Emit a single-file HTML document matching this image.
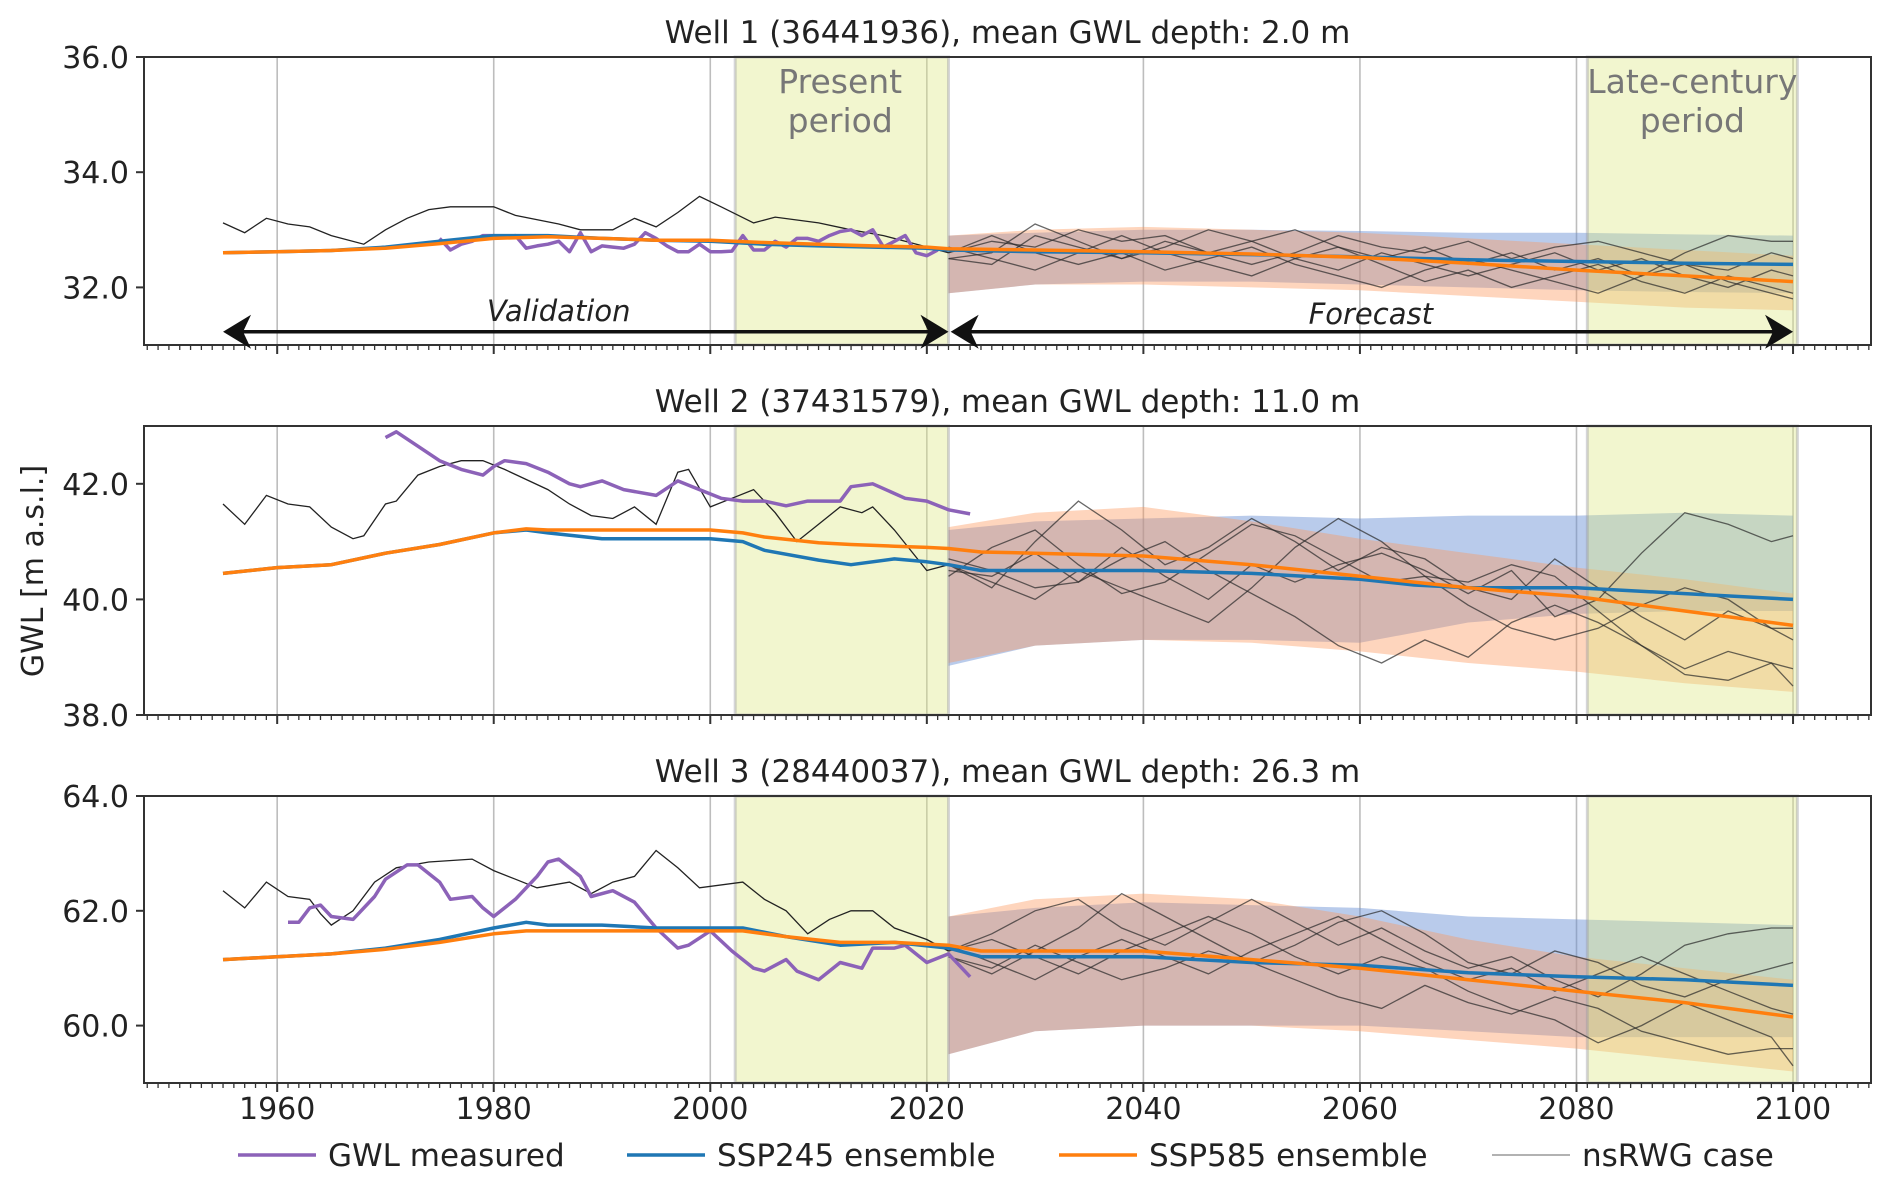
<!DOCTYPE html>
<html><head><meta charset="utf-8">
<style>
html,body{margin:0;padding:0;background:#fff;}
svg{display:block;font-family:"DejaVu Sans","Liberation Sans",sans-serif;}
</style></head>
<body>
<svg id="chart" width="1892" height="1185" viewBox="0 0 1892 1185" xmlns="http://www.w3.org/2000/svg"></svg>
<script>
// ---------- data ----------
const xTicks=[1960,1980,2000,2020,2040,2060,2080,2100];
const titles=["Well 1 (36441936), mean GWL depth: 2.0 m","Well 2 (37431579), mean GWL depth: 11.0 m","Well 3 (28440037), mean GWL depth: 26.3 m"];
const yTicks1=[32,34,36], yTicks2=[38,40,42], yTicks3=[60,62,64];
const fYears=[2022,2026,2030,2034,2038,2042,2046,2050,2054,2058,2062,2066,2070,2074,2078,2082,2086,2090,2094,2098,2100];
const bandYears=[2022,2030,2040,2050,2060,2070,2080,2090,2100];

// Well 1
const w1HistEnsYears=[1955,1960,1965,1970,1975,1980,1985,1990,1995,2000,2005,2010,2015,2020,2022];
const w1Ssp245Hist=[32.6,32.62,32.64,32.7,32.8,32.9,32.9,32.85,32.82,32.8,32.75,32.72,32.7,32.68,32.65];
const w1Ssp585Hist=[32.6,32.62,32.64,32.68,32.76,32.85,32.88,32.85,32.82,32.82,32.78,32.75,32.72,32.7,32.67];
const w1FcYears=[2022,2030,2040,2050,2060,2070,2080,2090,2100];
const w1Ssp245Fc=[32.65,32.62,32.6,32.57,32.53,32.48,32.45,32.42,32.4];
const w1Ssp585Fc=[32.67,32.65,32.62,32.58,32.52,32.42,32.3,32.2,32.1];
const w1B245Lo=[31.9,32.05,32.1,32.1,32.05,32.0,31.95,31.92,31.9];
const w1B245Hi=[32.9,32.95,33.0,33.0,32.98,32.95,32.95,32.92,32.9];
const w1B585Lo=[31.9,32.05,32.05,32.0,31.95,31.85,31.75,31.65,31.6];
const w1B585Hi=[32.9,33.0,33.05,33.0,32.95,32.85,32.75,32.65,32.55];
const w1MeasYears=[1975,1976,1977,1978,1979,1980,1981,1982,1983,1984,1985,1986,1987,1988,1989,1990,1991,1992,1993,1994,1995,1996,1997,1998,1999,2000,2001,2002,2003,2004,2005,2006,2007,2008,2009,2010,2011,2012,2013,2014,2015,2016,2017,2018,2019,2020,2021];
const w1Meas=[32.85,32.65,32.75,32.8,32.9,32.9,32.88,32.9,32.68,32.72,32.75,32.8,32.62,32.95,32.62,32.72,32.7,32.68,32.75,32.95,32.85,32.72,32.62,32.62,32.75,32.62,32.62,32.63,32.9,32.65,32.65,32.8,32.7,32.85,32.85,32.8,32.9,32.97,33.0,32.9,33.0,32.7,32.8,32.9,32.6,32.55,32.65];
const w1RwgYears=[1955,1957,1959,1961,1963,1965,1968,1970,1972,1974,1976,1980,1982,1986,1988,1991,1993,1995,1997,1999,2001,2004,2006,2010,2013,2016,2018,2022];
const w1Rwg=[33.12,32.95,33.2,33.1,33.05,32.9,32.75,33.0,33.2,33.35,33.4,33.4,33.25,33.1,33.0,33.0,33.2,33.05,33.3,33.58,33.4,33.12,33.22,33.12,33.0,32.9,32.8,32.6];
const w1F1=[32.6,32.8,32.7,33.0,32.8,32.9,32.6,32.8,33.0,32.7,32.5,32.7,32.4,32.6,32.3,32.5,32.2,32.6,32.9,32.8,32.8];
const w1F2=[32.5,32.4,32.9,32.7,32.5,32.7,33.0,32.8,32.5,32.3,32.6,32.4,32.2,32.4,32.6,32.3,32.5,32.2,32.0,32.3,32.2];
const w1F3=[32.7,32.5,32.3,32.6,32.9,32.6,32.4,32.2,32.5,32.7,32.4,32.1,32.3,32.0,32.2,32.4,32.1,31.9,32.2,32.0,31.9];
const w1F4=[32.6,32.9,32.6,32.4,32.6,32.3,32.5,32.7,32.4,32.2,32.0,32.3,32.5,32.3,32.1,31.9,32.2,32.4,32.3,32.6,32.5];
const w1F5=[32.5,32.6,33.1,32.8,32.5,32.8,32.6,32.4,32.6,32.9,32.7,32.6,32.8,32.5,32.7,32.8,32.6,32.4,32.1,31.9,31.8];

// Well 2
const w2HistEnsYears=[1955,1960,1965,1970,1975,1980,1983,1985,1990,1995,2000,2003,2005,2010,2013,2017,2020,2022];
const w2Ssp245Hist=[40.45,40.55,40.6,40.8,40.95,41.15,41.2,41.15,41.05,41.05,41.05,41.0,40.85,40.68,40.6,40.7,40.65,40.6];
const w2Ssp585Hist=[40.45,40.55,40.6,40.8,40.95,41.15,41.22,41.2,41.2,41.2,41.2,41.15,41.08,40.98,40.95,40.92,40.9,40.88];
const w2FcYears=[2022,2025,2030,2040,2050,2060,2065,2070,2080,2090,2100];
const w2Ssp245Fc=[40.6,40.5,40.5,40.5,40.45,40.35,40.25,40.2,40.2,40.1,40.0];
const w2Ssp585Fc=[40.88,40.82,40.8,40.75,40.6,40.4,40.3,40.2,40.05,39.8,39.55];
const w2B245Lo=[38.85,39.2,39.3,39.3,39.25,39.6,39.75,39.8,39.8];
const w2B245Hi=[41.2,41.35,41.4,41.45,41.4,41.45,41.45,41.5,41.45];
const w2B585Lo=[38.9,39.2,39.3,39.25,39.1,38.9,38.75,38.55,38.4];
const w2B585Hi=[41.25,41.5,41.6,41.35,41.05,40.8,40.55,40.35,40.1];
const w2MeasYears=[1970,1971,1973,1975,1977,1979,1980,1981,1983,1985,1987,1988,1990,1992,1995,1997,1999,2001,2003,2005,2007,2009,2012,2013,2015,2018,2020,2022,2024];
const w2Meas=[42.8,42.9,42.65,42.4,42.25,42.15,42.3,42.4,42.35,42.2,42.0,41.95,42.05,41.9,41.8,42.05,41.9,41.75,41.7,41.7,41.62,41.7,41.7,41.95,42.0,41.75,41.7,41.55,41.48];
const w2RwgYears=[1955,1957,1959,1961,1963,1965,1967,1968,1970,1971,1973,1975,1977,1979,1981,1985,1987,1989,1991,1993,1995,1997,1998,2000,2002,2004,2006,2008,2010,2012,2014,2015,2017,2020,2022];
const w2Rwg=[41.65,41.3,41.8,41.65,41.6,41.25,41.05,41.1,41.65,41.7,42.15,42.3,42.4,42.4,42.25,41.9,41.65,41.45,41.4,41.6,41.3,42.2,42.25,41.6,41.75,41.9,41.5,41.0,41.3,41.6,41.5,41.6,41.2,40.5,40.6];
const w2F1=[40.6,40.2,41.0,41.7,41.2,40.6,40.9,41.4,41.0,40.5,40.9,40.7,40.2,40.0,40.7,40.2,39.7,39.3,39.8,39.5,39.5];
const w2F2=[40.7,40.5,40.2,40.3,40.9,40.4,40.0,40.6,40.3,40.6,40.8,40.5,40.1,40.5,39.7,40.0,40.8,41.5,41.3,41.0,41.1];
const w2F3=[40.5,40.4,40.8,40.3,40.7,41.0,40.5,40.1,39.7,39.2,38.9,39.3,39.0,39.6,39.9,39.6,39.2,38.8,39.1,38.9,38.8];
const w2F4=[40.4,40.9,41.2,40.6,40.1,40.3,40.8,41.3,41.1,40.7,40.3,40.4,39.9,39.5,39.3,39.5,39.9,40.2,40.0,39.5,39.3];
const w2F5=[40.6,40.3,40.0,40.5,40.2,39.9,39.6,40.2,40.9,41.4,41.0,40.4,40.3,40.6,40.4,39.8,39.2,38.7,38.6,38.9,38.5];

// Well 3
const w3HistEnsYears=[1955,1960,1965,1970,1975,1980,1983,1985,1990,1995,2000,2003,2007,2012,2017,2022];
const w3Ssp245Hist=[61.15,61.2,61.25,61.35,61.5,61.7,61.8,61.75,61.75,61.7,61.7,61.7,61.55,61.4,61.45,61.35];
const w3Ssp585Hist=[61.15,61.2,61.25,61.33,61.45,61.6,61.65,61.65,61.65,61.65,61.65,61.65,61.55,61.45,61.45,61.4];
const w3FcYears=[2022,2025,2030,2040,2050,2060,2070,2080,2090,2100];
const w3Ssp245Fc=[61.35,61.2,61.2,61.2,61.1,61.05,60.92,60.85,60.8,60.7];
const w3Ssp585Fc=[61.4,61.3,61.3,61.3,61.15,61.0,60.8,60.6,60.4,60.15];
const w3B245Lo=[59.5,59.9,60.0,60.0,60.0,59.9,59.8,59.8,59.8];
const w3B245Hi=[61.9,62.05,62.15,62.1,62.05,61.9,61.85,61.8,61.75];
const w3B585Lo=[59.5,59.9,60.0,60.0,59.9,59.75,59.6,59.4,59.2];
const w3B585Hi=[61.9,62.2,62.3,62.2,61.9,61.5,61.2,61.0,60.8];
const w3MeasYears=[1961,1962,1963,1964,1965,1967,1969,1970,1972,1973,1975,1976,1978,1979,1980,1982,1984,1985,1986,1988,1989,1991,1993,1995,1997,1998,2000,2002,2004,2005,2007,2008,2010,2012,2014,2015,2017,2018,2020,2022,2024];
const w3Meas=[61.8,61.8,62.05,62.1,61.9,61.85,62.25,62.55,62.8,62.8,62.5,62.2,62.25,62.05,61.9,62.2,62.6,62.85,62.9,62.6,62.25,62.35,62.15,61.7,61.35,61.4,61.65,61.3,61.0,60.95,61.15,60.95,60.8,61.1,61.0,61.35,61.35,61.4,61.1,61.25,60.85];
const w3RwgYears=[1955,1957,1959,1961,1963,1964,1965,1967,1969,1971,1974,1978,1980,1982,1984,1987,1989,1991,1993,1995,1997,1999,2003,2005,2007,2009,2011,2013,2015,2017,2020,2022];
const w3Rwg=[62.35,62.05,62.5,62.25,62.2,61.95,61.75,62.0,62.5,62.75,62.85,62.9,62.7,62.55,62.4,62.5,62.3,62.5,62.6,63.05,62.75,62.4,62.5,62.2,62.0,61.6,61.85,62.0,62.0,61.7,61.5,61.3];
const w3F1=[61.3,61.6,62.0,62.2,61.7,61.4,61.8,62.2,61.8,61.4,61.7,61.3,61.0,61.2,60.8,60.5,60.9,61.4,61.6,61.7,61.7];
const w3F2=[61.2,60.9,61.3,61.7,62.3,61.9,61.5,61.1,60.8,60.5,60.3,60.7,60.4,60.2,60.5,60.3,59.9,59.7,59.5,59.6,59.6];
const w3F3=[61.4,61.1,60.8,61.2,61.5,61.2,60.9,61.3,61.6,61.9,61.5,61.1,60.8,61.0,60.6,60.9,61.2,60.9,60.6,60.3,60.2];
const w3F4=[61.3,61.5,61.2,60.9,61.3,61.6,61.9,61.6,61.2,60.9,61.2,61.0,60.6,60.3,60.1,59.7,60.0,60.4,60.1,59.8,59.3];
const w3F5=[61.2,61.0,61.4,61.1,60.8,61.0,61.3,61.1,61.4,61.8,62.0,61.6,61.1,60.9,61.3,61.1,60.7,60.5,60.8,61.0,61.1];

// ---------- layout ----------
const NS="http://www.w3.org/2000/svg";
const svg=document.getElementById('chart');
const X0=144,X1=1871,XMIN=1947.7,XMAX=2107.2;
function xs(y){return X0+(y-XMIN)/(XMAX-XMIN)*(X1-X0);}
function mk(tag,attrs,parent){const e=document.createElementNS(NS,tag);for(const k in attrs)e.setAttribute(k,attrs[k]);(parent||svg).appendChild(e);return e;}
function pathOf(xsArr,ysArr,ys){return xsArr.map((x,i)=>(i?'L':'M')+xs(x).toFixed(1)+','+ys(ysArr[i]).toFixed(1)).join(' ');}
function bandPath(xa,lo,hi,ys){let d=pathOf(xa,hi,ys);for(let i=xa.length-1;i>=0;i--)d+=' L'+xs(xa[i]).toFixed(1)+','+ys(lo[i]).toFixed(1);return d+' Z';}

const panels=[
 {top:57,bot:345,ymin:31,ymax:36,ticks:yTicks1,title:titles[0],
  he:w1HistEnsYears,s245h:w1Ssp245Hist,s585h:w1Ssp585Hist,fy:w1FcYears,s245f:w1Ssp245Fc,s585f:w1Ssp585Fc,
  bl245:w1B245Lo,bh245:w1B245Hi,bl585:w1B585Lo,bh585:w1B585Hi,my:w1MeasYears,m:w1Meas,ry:w1RwgYears,r:w1Rwg,f:[w1F1,w1F2,w1F3,w1F4,w1F5]},
 {top:426,bot:715,ymin:38,ymax:43,ticks:yTicks2,title:titles[1],
  he:w2HistEnsYears,s245h:w2Ssp245Hist,s585h:w2Ssp585Hist,fy:w2FcYears,s245f:w2Ssp245Fc,s585f:w2Ssp585Fc,
  bl245:w2B245Lo,bh245:w2B245Hi,bl585:w2B585Lo,bh585:w2B585Hi,my:w2MeasYears,m:w2Meas,ry:w2RwgYears,r:w2Rwg,f:[w2F1,w2F2,w2F3,w2F4,w2F5]},
 {top:796,bot:1083,ymin:59,ymax:64,ticks:yTicks3,title:titles[2],
  he:w3HistEnsYears,s245h:w3Ssp245Hist,s585h:w3Ssp585Hist,fy:w3FcYears,s245f:w3Ssp245Fc,s585f:w3Ssp585Fc,
  bl245:w3B245Lo,bh245:w3B245Hi,bl585:w3B585Lo,bh585:w3B585Hi,my:w3MeasYears,m:w3Meas,ry:w3RwgYears,r:w3Rwg,f:[w3F1,w3F2,w3F3,w3F4,w3F5]}
];

panels.forEach((p,pi)=>{
  const ys=v=>p.bot-(v-p.ymin)/(p.ymax-p.ymin)*(p.bot-p.top);
  const g=mk('g',{});
  
  
  xTicks.forEach(t=>{const l=mk('line',{x1:xs(t),x2:xs(t),y1:p.top,y2:p.bot,stroke:'#bdbdbd','stroke-width':1.6},g);
    
    });
  const b1=mk('path',{d:bandPath(bandYears,p.bl245,p.bh245,ys),fill:'rgba(100,140,210,0.45)'},g);
  
  
  const b2=mk('path',{d:bandPath(bandYears,p.bl585,p.bh585,ys),fill:'rgba(252,150,90,0.4)'},g);
  
  
  [[2002.3,2022,'present-period-span'],[2081,2100.4,'late-century-span']].forEach(s=>{
    const r=mk('rect',{x:xs(s[0]),y:p.top,width:xs(s[1])-xs(s[0]),height:p.bot-p.top,fill:'rgba(220,232,130,0.38)',stroke:'rgba(150,150,160,0.4)','stroke-width':3},g);
    
    
  });
  const rh=mk('path',{d:pathOf(p.ry,p.r,ys),fill:'none',stroke:'#222','stroke-width':1.3},g);
  
  
  p.f.forEach((arr,k)=>{const l=mk('path',{d:pathOf(fYears,arr,ys),fill:'none',stroke:'rgba(40,40,40,0.7)','stroke-width':1.3},g);
    
    });
  const m=mk('path',{d:pathOf(p.my,p.m,ys),fill:'none',stroke:'#8c62b8','stroke-width':3.5,'stroke-linejoin':'round'},g);
  
  
  const e1=mk('path',{d:pathOf(p.he.concat(p.fy.slice(1)),p.s245h.concat(p.s245f.slice(1)),ys),fill:'none',stroke:'#1f77b4','stroke-width':3.5,'stroke-linejoin':'round'},g);
  
  
  const e2=mk('path',{d:pathOf(p.he.concat(p.fy.slice(1)),p.s585h.concat(p.s585f.slice(1)),ys),fill:'none',stroke:'#ff7f0e','stroke-width':3.5,'stroke-linejoin':'round'},g);
  
  
  const fr=mk('rect',{x:X0,y:p.top,width:X1-X0,height:p.bot-p.top,fill:'none',stroke:'#333','stroke-width':2},g);
  
  
  p.ticks.forEach(t=>{
    mk('line',{x1:X0-8,x2:X0,y1:ys(t),y2:ys(t),stroke:'#333','stroke-width':2},g);
    const tx=mk('text',{x:X0-15,y:ys(t)+11,'text-anchor':'end','font-size':30,fill:'#222'},g);
    tx.textContent=t.toFixed(1);
    
    
  });
  for(let yr=1948;yr<=2107;yr++){
    const major=yr%20===0;
    mk('line',{x1:xs(yr),x2:xs(yr),y1:p.bot,y2:p.bot+(major?9:5),stroke:'#333','stroke-width':major?2:1.3},g);
  }
  const tt=mk('text',{x:(X0+X1)/2,y:p.top-14,'text-anchor':'middle','font-size':31,fill:'#222'},g);
  tt.textContent=p.title;
  
  
  if(pi===0){
    const pl=[[2012,'Present','period'],[2090.7,'Late-century','period']];
    pl.forEach(a=>{
      const t1=mk('text',{x:xs(a[0]),y:p.top+36,'text-anchor':'middle','font-size':33,fill:'#777'},g);
      t1.textContent=a[1];
      
      
      const t2=mk('text',{x:xs(a[0]),y:p.top+75,'text-anchor':'middle','font-size':33,fill:'#777'},g);
      t2.textContent=a[2];
      
      
    });
    const ay=ys(31.23);
    function head(x,dir){
      const L=28,W=17,n=8;
      const d=`M${x},${ay} L${x-dir*L},${ay-W} L${x-dir*(L-n)},${ay} L${x-dir*L},${ay+W} Z`;
      mk('path',{d:d,fill:'#111'},g);
    }
    [[1955,2022,'validation-arrow'],[2022.2,2100,'forecast-arrow']].forEach(a=>{
      const l=mk('line',{x1:xs(a[0])+10,x2:xs(a[1])-10,y1:ay,y2:ay,stroke:'#111','stroke-width':3.5},g);
      
      
      head(xs(a[0]),-1);head(xs(a[1]),1);
    });
    const v=mk('text',{x:xs(1986),y:ay-11,'text-anchor':'middle','font-size':29,'font-style':'italic',fill:'#222'},g);
    v.textContent='Validation';
    
    
    const f=mk('text',{x:xs(2061),y:ay-8,'text-anchor':'middle','font-size':29,'font-style':'italic',fill:'#222'},g);
    f.textContent='Forecast';
    
    
  }
});
xTicks.forEach(t=>{
  const tx=mk('text',{x:xs(t),y:1119,'text-anchor':'middle','font-size':30,fill:'#222'});
  tx.textContent=t;
  
  
});
const yt=mk('text',{x:0,y:0,transform:'translate(43,571) rotate(-90)','text-anchor':'middle','font-size':30,fill:'#222'});
yt.textContent='GWL [m a.s.l.]';


const leg=[['GWL measured','#8c62b8',3.5,238],['SSP245 ensemble','#1f77b4',3.5,627],['SSP585 ensemble','#ff7f0e',3.5,1059],['nsRWG case','#999',1.5,1492]];
leg.forEach(l=>{
  const g=mk('g',{});
  
  
  mk('line',{x1:l[3],x2:l[3]+78,y1:1155,y2:1155,stroke:l[1],'stroke-width':l[2]},g);
  const t=mk('text',{x:l[3]+90,y:1166,'font-size':31,fill:'#222'},g);
  t.textContent=l[0];
});
</script>
</body></html>
